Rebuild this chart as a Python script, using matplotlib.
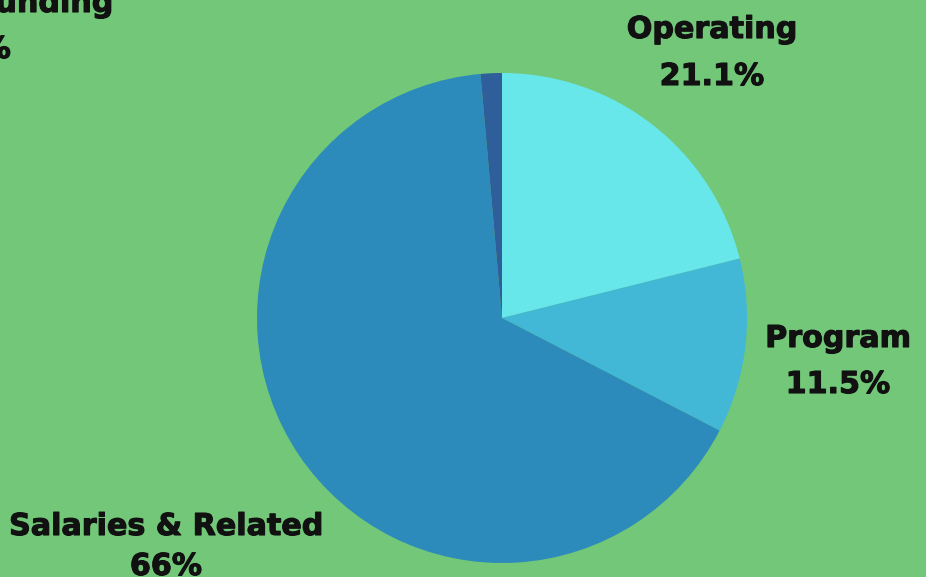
import matplotlib
matplotlib.use("Agg")
import matplotlib.pyplot as plt
import matplotlib.patheffects as pe

# budget shares, clockwise from 12 o'clock
categories = ["Operating", "Program", "Salaries & Related", "Other Funding"]
shares = [21.1, 11.5, 66.0, 1.4]
share_labels = ["21.1%", "11.5%", "66%", "1.4%"]

colors = ["#67E7E9", "#42B7D6", "#2C8BBA", "#2F5F9B"]
bg = "#72C778"

W, H = 926, 577

# label placement, pixels from top-left: (x name, baseline name, x pct, baseline pct, align)
label_pos = [
    (712, 38, 712, 85, "center"),
    (838, 347, 838, 393, "center"),
    (166, 535, 166, 575, "center"),
    (113, 12, 11, 58, "right"),
]

fig = plt.figure(figsize=(W / 100, H / 100), dpi=100, facecolor=bg)
ax = fig.add_axes([0, 0, 1, 1])
ax.set_facecolor(bg)

ax.pie(shares, colors=colors, startangle=90, counterclock=False,
       center=(502, H - 318), radius=245, frame=True,
       wedgeprops=dict(linewidth=0))
ax.set_xlim(0, W)
ax.set_ylim(0, H)
ax.set_aspect("equal")
ax.axis("off")

style = dict(fontsize=21.7, fontweight="bold", family="DejaVu Sans",
             color="#111111", va="baseline", clip_on=False,
             path_effects=[pe.withStroke(linewidth=0.8, foreground="#111111")])

for name, pct, (xn, yn, xp, yp, al) in zip(categories, share_labels, label_pos):
    ax.text(xn, H - yn, name, ha=al, **style)
    ax.text(xp, H - yp, pct, ha=al, **style)

fig.savefig("out.png", dpi=100, facecolor=bg)
